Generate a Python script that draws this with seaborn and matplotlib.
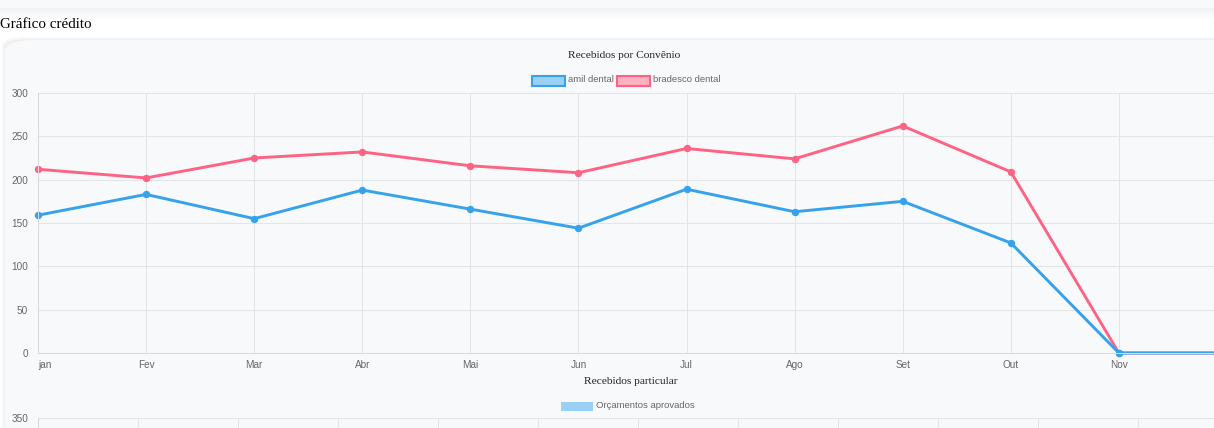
import pandas as pd
import matplotlib
matplotlib.use("Agg")
import matplotlib.pyplot as plt
from matplotlib.patches import Rectangle, FancyBboxPatch
import seaborn as sns

# dados do grafico
meses = ["jan", "Fev", "Mar", "Abr", "Mai", "Jun", "Jul", "Ago", "Set", "Out", "Nov", "Dez"]
amil_dental = [159, 183, 155, 188, 166, 144, 189, 163, 175, 127, 0, 0]
bradesco_dental = [212, 202, 225, 232, 216, 208, 236, 224, 262, 209, 0, 0]
y_ticks = [0, 50, 100, 150, 200, 250, 300]
y_ticks_particular = [0, 50, 100, 150, 200, 250, 300, 350]

W, H = 1214, 428
AZUL = "#36a2eb"
ROSA = "#ff6384"
FUNDO = "#f8f9fa"
GRADE = "#e3e4e5"
TEXTO = "#666666"


def fx(x):
    return x / W


def fy(y):
    return 1 - y / H


sns.set_style("white")
plt.rcParams["font.family"] = ["Liberation Sans", "DejaVu Sans"]

fig = plt.figure(figsize=(W / 100, H / 100), dpi=100)
fig.patch.set_facecolor("white")

# card de cima (cortado) + sombra
for i in range(12):
    fig.add_artist(Rectangle((fx(0), fy(9 + i)), 1, 1 / H, transform=fig.transFigure,
                             color="black", alpha=0.05 * (1 - i / 12), lw=0, zorder=-10))
fig.add_artist(Rectangle((fx(0), fy(8)), 1, 8 / H + 0.01, transform=fig.transFigure,
                         color=FUNDO, lw=0, zorder=-9))

# card do grafico
for i in range(6):
    fig.add_artist(FancyBboxPatch((fx(5 - i * 0.7), fy(H + 50)), 1.2, (H + 10 + i * 0.7) / H,
                                  boxstyle="round,pad=0,rounding_size=0.02",
                                  transform=fig.transFigure, color="black",
                                  alpha=0.01, lw=0, zorder=-8))
fig.add_artist(FancyBboxPatch((fx(5), fy(H + 50)), 1.2, (H + 10) / H,
                              boxstyle="round,pad=0,rounding_size=0.025",
                              transform=fig.transFigure, color=FUNDO, lw=0,
                              mutation_aspect=H / W * 3, zorder=-7))

fig.text(fx(0), fy(25), "Gráfico crédito", family="Liberation Serif", fontsize=10.8,
         color="black", va="center", ha="left")

# grafico de linhas
df = pd.DataFrame({
    "mes": meses * 2,
    "valor": bradesco_dental + amil_dental,
    "serie": ["bradesco dental"] * len(meses) + ["amil dental"] * len(meses),
})

ax = fig.add_axes([fx(38), fy(353), fx(1227) - fx(38), (353 - 93) / H])
ax.set_facecolor("none")
sns.lineplot(data=df, x="mes", y="valor", hue="serie", sort=False,
             palette={"amil dental": AZUL, "bradesco dental": ROSA},
             hue_order=["bradesco dental", "amil dental"],
             marker="o", markersize=4.5, linewidth=2.1,
             legend=False, ax=ax)
for ln in ax.lines:
    ln.set_markeredgecolor(ln.get_color())
    ln.set_markeredgewidth(0.8)
    ln.set_clip_on(False)
ax.set_xlim(0, len(meses) - 1)
ax.set_ylim(0, 300)
ax.set_yticks(y_ticks)
ax.set_xticks(range(len(meses)))
ax.set_xticklabels(meses[:-1] + [""])
ax.grid(True, color=GRADE, lw=0.75)
ax.set_xlabel("")
ax.set_ylabel("")
for s in ["top", "right"]:
    ax.spines[s].set_visible(False)
for s in ["left", "bottom"]:
    ax.spines[s].set_color("#d9dadb")
    ax.spines[s].set_linewidth(0.75)
ax.tick_params(axis="y", length=6, width=0.75, color=GRADE, labelsize=7.2, labelcolor=TEXTO, pad=1)
ax.tick_params(axis="x", length=0, labelsize=7.2, labelcolor=TEXTO, pad=5)
ax.get_xticklabels()[0].set_ha("left")

fig.text(fx(624), fy(55), "Recebidos por Convênio", family="Liberation Serif",
         fontsize=8.2, color="#222222", ha="center", va="center")

# legenda
legenda = [(532, AZUL, "#9ad0f5", "amil dental"), (617, ROSA, "#ffb1c1", "bradesco dental")]
for x0, borda, cheio, nome in legenda:
    fig.add_artist(Rectangle((fx(x0), fy(86)), 33 / W, 10 / H, transform=fig.transFigure,
                             facecolor=cheio, edgecolor=borda, lw=1.5))
    fig.text(fx(x0 + 36), fy(80), nome, fontsize=6.8, color=TEXTO, va="center", ha="left")

# segundo grafico (cortado)
fig.text(fx(631), fy(382), "Recebidos particular", family="Liberation Serif",
         fontsize=8.2, color="#222222", ha="center", va="center")
fig.add_artist(Rectangle((fx(561), fy(411)), 32 / W, 9 / H, transform=fig.transFigure,
                         facecolor="#9ad0f5", edgecolor="none", lw=0))
fig.text(fx(596), fy(406), "Orçamentos aprovados", fontsize=6.8, color=TEXTO,
         va="center", ha="left")

ax2 = fig.add_axes([fx(38), fy(678), fx(1238) - fx(38), (678 - 418) / H])
ax2.set_facecolor("none")
ax2.set_xlim(-0.5, len(meses) - 0.5)
ax2.set_ylim(0, 350)
ax2.set_yticks(y_ticks_particular)
ax2.set_yticklabels([""] * (len(y_ticks_particular) - 1) + ["350"])
ax2.set_xticks([i - 0.5 for i in range(len(meses) + 1)])
ax2.set_xticklabels([])
ax2.grid(True, color=GRADE, lw=0.75)
for s in ["top", "right", "bottom"]:
    ax2.spines[s].set_visible(False)
ax2.spines["left"].set_color("#d9dadb")
ax2.spines["left"].set_linewidth(0.75)
ax2.tick_params(axis="y", length=6, width=0.75, color=GRADE, labelsize=7.2, labelcolor=TEXTO, pad=1)
ax2.tick_params(axis="x", length=0)

fig.savefig("out.png", dpi=100)
